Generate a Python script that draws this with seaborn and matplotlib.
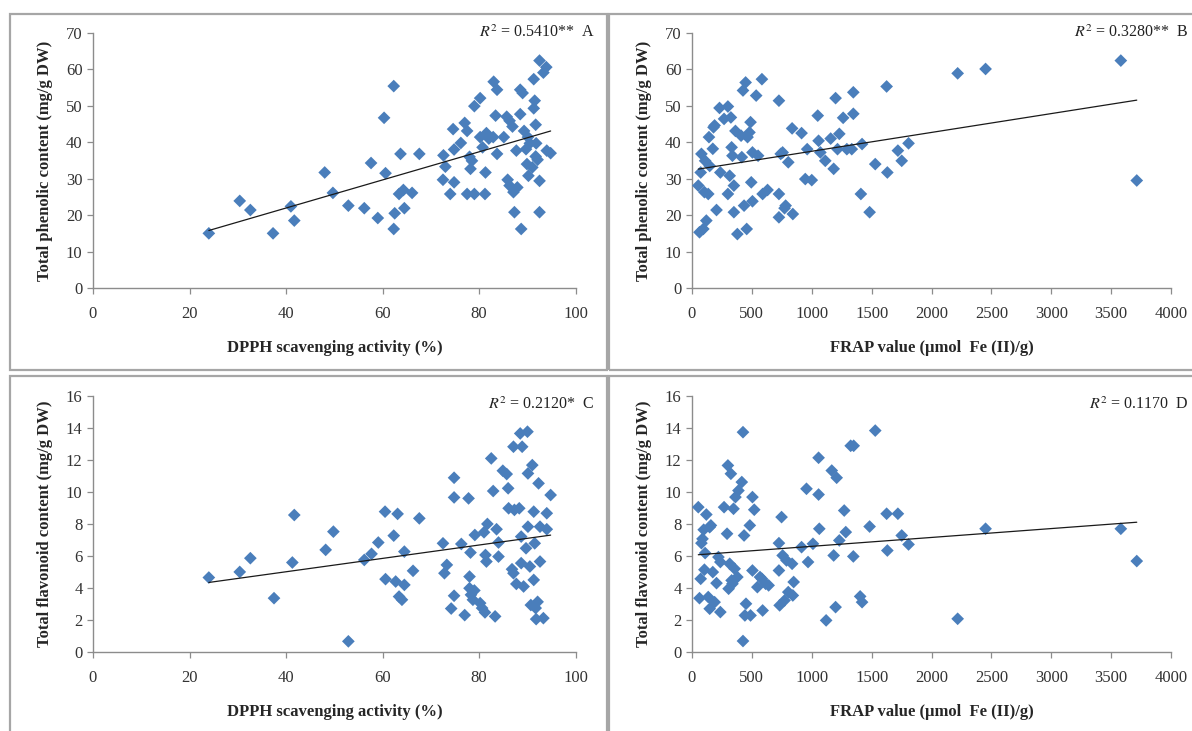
import numpy as np
import pandas as pd
import matplotlib
matplotlib.use("Agg")
import matplotlib.pyplot as plt
from matplotlib.patches import Rectangle
import seaborn as sns

# panel A: DPPH (%) vs total phenolic content
dpph_a = [24, 30.4, 32.6, 37.3, 41, 41.7, 48, 49.7, 52.9, 56.2, 57.6, 59, 60.3, 60.6,
          62.3, 62.3, 62.5, 63.7, 63.4, 64.3, 64.5, 66.1, 67.6, 72.5, 72.6, 73, 74,
          74.6, 74.8, 74.8, 76.2, 77, 77.5, 77.5, 78, 78.2, 78.5, 79, 79, 80.2, 80.2,
          80.7, 81.2, 81.3, 81.5, 82, 83, 83.4, 83.7, 83.7, 82.9, 85.1, 85.7, 86.3,
          85.9, 86.3, 86.9, 87.1, 87.3, 87.7, 87.9, 88.5, 88.5, 89, 88.7, 89.3, 89.7,
          89.9, 90.1, 90.2, 90.5, 91, 91.3, 91.3, 91.5, 91.7, 91.8, 92.5, 92.5, 92.5,
          93.3, 93.9, 94, 94.8, 91.7, 92.1]
tpc_a = [15, 23.9, 21.4, 15, 22.4, 18.5, 31.7, 26.1, 22.6, 21.9, 34.3, 19.2, 46.7, 31.5,
         55.4, 16.2, 20.5, 36.8, 25.8, 26.9, 21.9, 26.1, 36.8, 29.7, 36.4, 33.3, 25.8,
         43.6, 38, 29, 39.8, 45.3, 43.1, 25.8, 36, 32.7, 34.9, 25.8, 49.9, 52.1, 41.4,
         38.6, 25.8, 31.7, 42.5, 41, 56.6, 47.3, 54.4, 36.8, 41.4, 41.4, 47, 45.9,
         29.7, 28.1, 44.3, 26.3, 20.8, 37.7, 27.6, 47.7, 54.4, 53.5, 16.2, 43.1, 38.1,
         34, 41.4, 30.8, 39.7, 33.1, 57.3, 49.3, 51.4, 36.1, 39.7, 62.4, 29.4, 20.8,
         59.1, 60.6, 37.7, 37, 44.8, 35.2]

# panel B: FRAP vs total phenolic content
frap_b = [53, 63, 73, 79, 95, 104, 110, 120, 136, 142, 148, 174, 180, 189, 205, 230, 237,
          268, 300, 300, 315, 325, 331, 338, 350, 350, 363, 379, 410, 416, 426, 435, 448,
          457, 464, 480, 489, 495, 505, 505, 536, 552, 584, 590, 631, 726, 726, 726, 741,
          757, 773, 782, 804, 836, 842, 915, 946, 962, 1000, 1050, 1057, 1072, 1113, 1158,
          1183, 1199, 1215, 1230, 1262, 1293, 1347, 1347, 1334, 1420, 1410, 1483, 1530,
          1625, 1631, 1719, 1751, 1808, 2218, 2451, 3580, 3713]
tpc_b = [28.1, 15.3, 31.7, 36.8, 16.2, 26.3, 34.9, 18.5, 25.8, 41.4, 33.5, 38.2, 44.1,
         44.6, 21.4, 49.4, 31.7, 46.4, 49.8, 25.8, 30.8, 46.8, 38.6, 36.3, 28.1, 20.8,
         43.1, 14.8, 41.8, 35.9, 54.2, 22.6, 56.4, 16.2, 41.4, 42.7, 45.5, 29, 37.2, 23.8,
         52.8, 36.3, 57.3, 25.8, 26.9, 51.4, 25.8, 19.4, 36.8, 37.2, 21.9, 22.6, 34.5,
         43.8, 20.3, 42.5, 29.9, 38.1, 29.6, 47.3, 40.4, 37.2, 34.9, 41, 32.7, 52.1, 38.1,
         42.3, 46.7, 38.1, 47.8, 53.7, 38.1, 39.5, 25.8, 20.8, 34, 55.3, 31.7, 37.7, 34.9,
         39.7, 58.9, 60.1, 62.4, 29.5]

# panel C: DPPH (%) vs total flavonoid content
dpph_c = [24, 30.4, 32.6, 37.5, 41.3, 41.7, 48.2, 49.8, 52.9, 56.2, 57.7, 59.1, 60.5, 60.6,
          62.3, 62.7, 63.1, 63.4, 64, 64.5, 64.5, 66.3, 67.6, 72.5, 72.8, 73.3, 74.2, 74.8,
          74.8, 74.8, 76.3, 77, 77.8, 78, 78.2, 78, 78.3, 78.7, 79, 79.1, 80.2, 80.6, 81,
          81.2, 81.3, 81.7, 81.5, 82.5, 82.9, 83.3, 83.6, 84, 84, 84.9, 85.7, 86, 86.1,
          86.8, 87.1, 87.1, 87.3, 87.7, 88.3, 88.5, 88.9, 88.7, 88.7, 89.2, 89.7, 90, 90.1,
          90.1, 90.5, 90.7, 91, 91.3, 91.3, 91.5, 91.7, 91.8, 92.1, 92.3, 92.6, 92.6, 93.3,
          94, 94, 94.8]
tfc_c = [4.66, 5.01, 5.87, 3.37, 5.6, 8.57, 6.39, 7.53, 0.67, 5.76, 6.14, 6.85, 8.78, 4.56,
         7.28, 4.41, 8.64, 3.47, 3.27, 6.28, 4.2, 5.08, 8.36, 6.8, 4.93, 5.45, 2.72, 10.9,
         9.67, 3.52, 6.76, 2.31, 9.61, 4.72, 6.22, 3.99, 3.58, 3.27, 3.85, 7.32, 3.06, 2.75,
         7.49, 2.48, 6.07, 8.01, 5.66, 12.11, 10.07, 2.23, 7.68, 6.85, 5.97, 11.34, 11.13,
         10.24, 8.99, 5.18, 12.84, 4.93, 8.89, 4.26, 8.99, 13.67, 12.84, 7.22, 5.56, 4.1,
         6.49, 13.78, 11.17, 7.84, 5.35, 2.94, 11.69, 4.51, 8.78, 6.8, 2.75, 2.06, 3.14,
         10.55, 5.66, 7.84, 2.12, 8.68, 7.68, 9.82]

# panel D: FRAP vs total flavonoid content
frap_d = [53, 63, 73, 79, 88, 98, 104, 110, 120, 136, 148, 158, 148, 174, 189, 205, 221,
          237, 237, 268, 293, 300, 325, 306, 315, 331, 338, 347, 356, 363, 379, 388, 416,
          426, 435, 442, 451, 426, 483, 489, 505, 520, 505, 546, 568, 584, 590, 615, 640,
          726, 726, 732, 748, 757, 773, 789, 804, 836, 842, 849, 915, 956, 969, 1010, 1057,
          1057, 1063, 1120, 1167, 1183, 1199, 1208, 1230, 1271, 1284, 1325, 1350, 1347,
          1404, 1420, 1483, 1530, 1625, 1631, 1719, 1751, 1808, 2218, 2451, 3580, 3713]
tfc_d = [9.06, 3.37, 4.58, 6.81, 7.08, 7.65, 5.15, 6.19, 8.6, 3.44, 7.81, 7.92, 2.71, 5.0,
         3.12, 4.31, 5.94, 5.63, 2.5, 9.06, 7.4, 11.67, 11.15, 3.96, 5.52, 4.48, 4.27, 8.96,
         5.21, 9.69, 4.69, 10.1, 10.63, 13.75, 7.29, 2.29, 3.02, 0.69, 7.92, 2.29, 9.69,
         8.9, 5.1, 4.06, 4.69, 4.58, 2.6, 4.27, 4.17, 6.81, 5.1, 2.92, 8.44, 6.04, 3.23,
         5.73, 3.75, 5.52, 3.54, 4.38, 6.56, 10.21, 5.63, 6.77, 9.85, 12.15, 7.71, 1.98,
         11.35, 6.04, 2.81, 10.9, 6.98, 8.85, 7.5, 12.9, 12.9, 5.98, 3.48, 3.12, 7.85,
         13.85, 8.65, 6.35, 8.65, 7.29, 6.73, 2.08, 7.71, 7.71, 5.69]

r2_labels = ["0.5410**", "0.3280**", "0.2120*", "0.1170"]
panel_letters = ["A", "B", "C", "D"]
xlabels = ["DPPH scavenging activity (%)", "FRAP value (\u03bcmol  Fe (II)/g)"]
ylabels = ["Total phenolic content (mg/g DW)", "Total flavonoid content (mg/g DW)"]

sns.set_style("white")
plt.rcParams["font.family"] = ["Liberation Serif", "DejaVu Serif"]
plt.rcParams["mathtext.fontset"] = "stix"

fig = plt.figure(figsize=(11.92, 7.31), dpi=100)

# panel frames
frame_col = "#a6a6a6"
for (x0, y0, w, h) in [(0.0084, 0.494, 0.5006, 0.487), (0.5105, 0.494, 0.52, 0.487),
                       (0.0084, -0.02, 0.5006, 0.506), (0.5105, -0.02, 0.52, 0.506)]:
    fig.patches.append(Rectangle((x0, y0), w, h, transform=fig.transFigure,
                                 fill=False, edgecolor=frame_col, linewidth=1.6))

positions = [[0.078, 0.606, 0.405, 0.349], [0.5805, 0.606, 0.402, 0.349],
             [0.078, 0.108, 0.405, 0.350], [0.5805, 0.108, 0.402, 0.350]]
datasets = [(dpph_a, tpc_a), (frap_b, tpc_b), (dpph_c, tfc_c), (frap_d, tfc_d)]
text_pos = [(1.04, 1.0), (1.037, 1.0), (1.04, 0.965), (1.037, 0.965)]

for i, (x, y) in enumerate(datasets):
    ax = fig.add_axes(positions[i])
    df = pd.DataFrame({"x": x, "y": y})
    sns.scatterplot(data=df, x="x", y="y", ax=ax, marker="D", s=42,
                    color="#4a7ebb", edgecolor="none", zorder=3)
    sns.regplot(data=df, x="x", y="y", ax=ax, scatter=False, ci=None,
                line_kws={"color": "#1a1a1a", "linewidth": 0.9, "zorder": 4})
    if i % 2 == 0:
        ax.set_xlim(0, 100)
        ax.set_xticks(np.arange(0, 101, 20))
    else:
        ax.set_xlim(0, 4000)
        ax.set_xticks(np.arange(0, 4001, 500))
    if i < 2:
        ax.set_ylim(0, 70)
        ax.set_yticks(np.arange(0, 71, 10))
    else:
        ax.set_ylim(0, 16)
        ax.set_yticks(np.arange(0, 17, 2))
    for s in ["top", "right"]:
        ax.spines[s].set_visible(False)
    for s in ["left", "bottom"]:
        ax.spines[s].set_color("#8c8c8c")
        ax.spines[s].set_linewidth(1.0)
    ax.tick_params(axis="both", direction="out", length=4, width=0.9, color="#8c8c8c",
                   labelsize=12, labelcolor="#333333", left=True, bottom=True)
    ax.tick_params(axis="x", pad=9)
    ax.set_xlabel(xlabels[i % 2], fontsize=12, fontweight="bold", labelpad=13)
    ax.set_ylabel(ylabels[i // 2], fontsize=12, fontweight="bold", labelpad=9)
    ax.text(text_pos[i][0], text_pos[i][1],
            r"$R^{2}$" + " = " + r2_labels[i] + "  " + panel_letters[i],
            transform=ax.transAxes, ha="right", va="center", fontsize=11.5, color="#222222",
            clip_on=False)

fig.savefig("out.png", dpi=100)
